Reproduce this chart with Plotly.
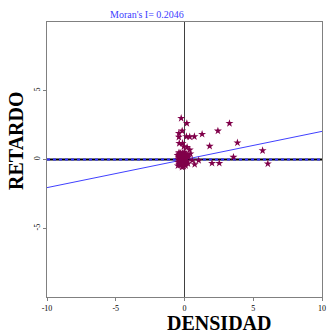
import plotly.graph_objects as go

moran_i = 0.2046
intercept = 0.0

densidad = [-0.24, 0.17, 3.27, 2.43, 1.28, 0.72, 0.38, 0.14, -0.41, -0.17, -0.41, -0.38, -0.14,
            1.83, 3.85, -0.05, 0.19, 0.38, 0.43, 5.68, 3.56, 6.06, 2.0, 2.53, 0.74, 1.03, 0.56,
            -0.5, -0.45, -0.4, -0.35, -0.3, -0.25, -0.2, -0.15, -0.1, -0.05, 0.0, 0.05, 0.1, 0.15,
            -0.48, -0.42, -0.33, -0.28, -0.18, -0.08, 0.02, 0.12, 0.2, 0.3,
            -0.46, -0.38, -0.22, -0.12, 0.08, 0.18, -0.3, -0.02, 0.25, -0.4]
retardo = [3.0, 2.63, 2.63, 2.08, 1.84, 1.67, 1.65, 1.67, 1.91, 2.08, 1.63, 1.18, 1.18,
           0.97, 1.22, 0.94, 0.89, 0.70, 0.41, 0.65, 0.17, -0.31, -0.27, -0.27, -0.36, -0.07, -0.07,
           0.3, -0.2, 0.5, 0.1, -0.4, 0.35, -0.1, 0.45, 0.0, -0.5, 0.2, -0.3, 0.4, 0.05,
           -0.45, 0.15, -0.05, 0.25, -0.55, 0.3, -0.25, 0.1, -0.15, 0.2,
           0.0, -0.35, 0.05, -0.2, -0.45, 0.35, 0.45, 0.55, -0.3, 0.4]

x_ticks = [-10, -5, 0, 5, 10]
y_ticks = [-5, 0, 5]

W, H = 328, 336
L, R, T, B = 47, 6, 22, 39
PW, PH = W - L - R, H - T - B


def px_x(p):
    return (p - L) / PW


def px_y(p):
    return (H - B - p) / PH


fig = go.Figure()

xr = [-10, 10]
fig.add_trace(go.Scatter(x=xr, y=[0, 0], mode="lines", line=dict(color="#000000", width=2),
                         hoverinfo="skip", showlegend=False))
fig.add_trace(go.Scatter(x=xr, y=[0, 0], mode="lines", line=dict(color="#3030ff", width=2, dash="dot"),
                         hoverinfo="skip", showlegend=False))
fig.add_trace(go.Scatter(x=[0, 0], y=[-10, 10], mode="lines", line=dict(color="#404040", width=1),
                         hoverinfo="skip", showlegend=False))
fig.add_trace(go.Scatter(x=xr, y=[intercept + moran_i * v for v in xr], mode="lines",
                         line=dict(color="#4040ff", width=1), showlegend=False))
fig.add_trace(go.Scatter(x=densidad, y=retardo, mode="markers",
                         marker=dict(symbol="star", size=6, color="#80004a"),
                         showlegend=False))

fig.update_layout(
    width=W, height=H,
    margin=dict(l=L, r=R, t=T, b=B),
    paper_bgcolor="white", plot_bgcolor="white",
    font=dict(family="Liberation Serif", size=8, color="#000000"),
    xaxis=dict(range=[-10, 10], tickvals=x_ticks, ticktext=[str(v) for v in x_ticks],
               showgrid=False, zeroline=False, showline=True, linecolor="#808080", linewidth=1,
               mirror=True, ticks="outside", ticklen=3, tickcolor="#808080", automargin=False,
               tickfont=dict(family="Liberation Serif", size=8)),
    yaxis=dict(range=[-10, 10], tickvals=y_ticks, ticktext=[str(v) for v in y_ticks],
               showgrid=False, zeroline=False, showline=True, linecolor="#808080", linewidth=1,
               mirror=True, ticks="outside", ticklen=3, tickcolor="#808080", tickangle=-90,
               automargin=False, tickfont=dict(family="Liberation Serif", size=8)),
    annotations=[
        dict(text="Moran's I= 0.2046", x=px_x(147), y=px_y(14), xref="paper", yref="paper",
             showarrow=False, xanchor="center", yanchor="middle",
             font=dict(family="Liberation Serif", size=10, color="#4040ff")),
        dict(text="<b>DENSIDAD</b>", x=px_x(219), y=px_y(323), xref="paper", yref="paper",
             showarrow=False, xanchor="center", yanchor="middle",
             font=dict(family="Liberation Serif", size=20, color="#000000")),
        dict(text="<b>RETARDO</b>", x=px_x(16), y=px_y(141), xref="paper", yref="paper",
             showarrow=False, textangle=-90, xanchor="center", yanchor="middle",
             font=dict(family="Liberation Serif", size=20, color="#000000")),
    ],
)

fig.write_html("out.html", config={"displayModeBar": False},
               post_script="document.body.style.margin='0';document.body.style.overflow='hidden';")
